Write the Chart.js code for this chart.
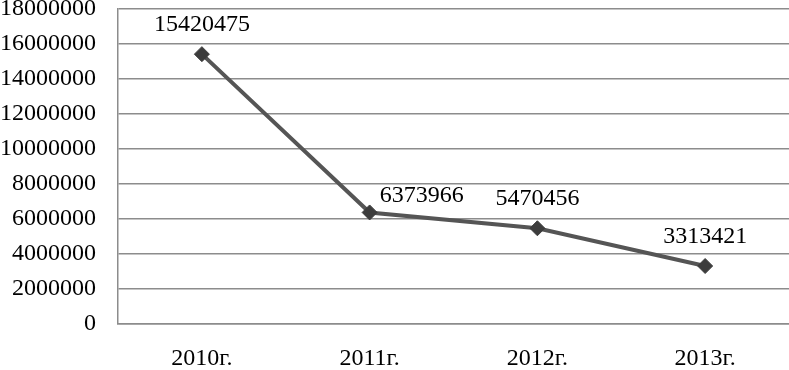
<!DOCTYPE html>
<html>
<head>
<meta charset="utf-8">
<script src="https://cdn.jsdelivr.net/npm/chart.js@4"></script>
<style>
  html, body { margin: 0; padding: 0; background: #fff; }
  #wrap { width: 789px; height: 370px; }
</style>
</head>
<body>
<div id="wrap"><canvas id="chart" width="789" height="370"></canvas></div>
<script>
var years = ["2010г.", "2011г.", "2012г.", "2013г."];
var values = [15420475, 6373966, 5470456, 3313421];
var yMax = 18000000;
var yStep = 2000000;

// draws the number above each point
var valueLabels = {
    id: 'valueLabels',
    afterDatasetsDraw: function (chart, args, opts) {
        var ctx = chart.ctx;
        var meta = chart.getDatasetMeta(0);
        ctx.save();
        ctx.font = opts.font;
        ctx.fillStyle = '#000';
        ctx.textAlign = 'center';
        ctx.textBaseline = 'middle';
        meta.data.forEach(function (pt, i) {
            var off = opts.offsets[i] || [0, -29];
            ctx.fillText(String(values[i]), pt.x + off[0], pt.y + off[1]);
        });
        ctx.restore();
    }
};

var ctx = document.getElementById('chart').getContext('2d');
var chart = new Chart(ctx, {
    type: 'line',
    data: {
        labels: years,
        datasets: [{
            data: values,
            borderColor: '#555555',
            borderWidth: 4,
            pointStyle: 'rectRot',
            pointRadius: 7.5,
            pointBackgroundColor: '#3c3c3c',
            pointBorderColor: '#3c3c3c',
            pointBorderWidth: 1,
            tension: 0
        }]
    },
    options: {
        responsive: false,
        animation: false,
        layout: { autoPadding: false, padding: { top: 0, right: 0, bottom: 0, left: 0 } },
        plugins: {
            legend: { display: false },
            tooltip: { enabled: false },
            valueLabels: {
                font: '24px "Liberation Serif", "Times New Roman", serif',
                offsets: [[0, -29], [52, -17], [0, -30], [0, -29]]
            }
        },
        scales: {
            x: {
                offset: true,
                grid: { display: false, drawTicks: false },
                border: { display: true, color: '#8c8c8c', width: 1.5 },
                ticks: {
                    color: '#000',
                    padding: 20,
                    font: { family: '"Liberation Serif", "Times New Roman", serif', size: 24 }
                },
                afterFit: function (scale) {
                    scale.paddingLeft = 0;
                    scale.paddingRight = 0;
                    scale.height = 46;
                }
            },
            y: {
                min: 0,
                max: yMax,
                grid: { color: '#8c8c8c', lineWidth: 1.5, drawTicks: false },
                border: { display: true, color: '#8c8c8c', width: 1.5 },
                ticks: {
                    stepSize: yStep,
                    color: '#000',
                    padding: 22,
                    font: { family: '"Liberation Serif", "Times New Roman", serif', size: 24 },
                    callback: function (v) { return String(v); }
                },
                afterFit: function (scale) {
                    scale.width = 118;
                    scale.paddingTop = 9;
                    scale.paddingBottom = 0;
                }
            }
        }
    },
    plugins: [valueLabels]
});
</script>
</body>
</html>
